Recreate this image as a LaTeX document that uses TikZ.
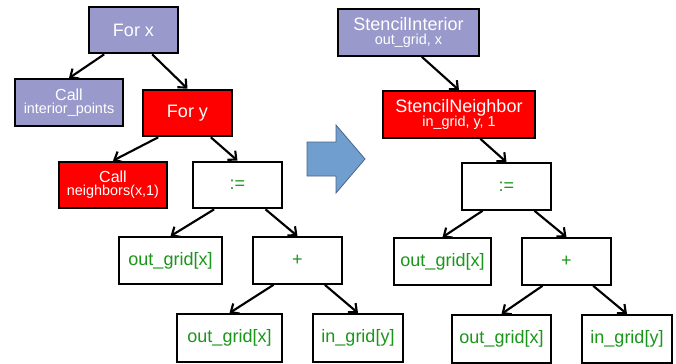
\documentclass[tikz,border=0pt]{standalone}
\usepackage{fontspec}
\setmainfont{Liberation Sans}
\usetikzlibrary{arrows.meta}

\definecolor{boxpurple}{RGB}{153,153,204}
\definecolor{boxred}{RGB}{255,0,0}
\definecolor{codegreen}{RGB}{26,150,26}
\definecolor{bigblue}{RGB}{112,159,207}
\definecolor{bigblueline}{RGB}{75,100,135}

\newcommand{\bigtxt}{\fontsize{13.5pt}{15pt}\selectfont}
\newcommand{\midtxt}{\fontsize{12pt}{13pt}\selectfont}
\newcommand{\smalltxt}{\fontsize{10.8pt}{12pt}\selectfont}

\tikzset{
  box/.style={draw, line width=1.5pt, inner sep=0pt, align=center,
              minimum width=67pt, minimum height=35pt},
  purplebox/.style={box, fill=boxpurple, text=white},
  redbox/.style={box, fill=boxred, text=white},
  codebox/.style={box, fill=white, text=codegreen, font=\bigtxt},
  link/.style={line width=1.6pt, -{Straight Barb[length=5pt,width=9pt]}}
}

\begin{document}
\begin{tikzpicture}[x=0.75pt,y=-0.75pt]
  \useasboundingbox (0,0) rectangle (676,364);

  % before
  \draw (133.5,30) node[purplebox,font=\bigtxt] (forx) {For x};
  \draw (69,102.5) node[purplebox,minimum width=81pt] (callip) {\midtxt Call\\[-2pt]\smalltxt interior\_points};
  \draw (187.5,113) node[redbox,font=\bigtxt] (fory) {For y};
  \draw (113,185) node[redbox,minimum width=81pt] (callnb) {\midtxt Call\\[-2pt]\smalltxt neighbors(x,1)};
  \draw (237.5,185) node[codebox] (asgnL) {:=};
  \draw (170.5,260.5) node[codebox,minimum width=77pt] (outL) {out\_grid[x]};
  \draw (297.5,260.5) node[codebox] (plusL) {+};
  \draw (229.5,338) node[codebox,minimum width=79pt,minimum height=36pt] (outLL) {out\_grid[x]};
  \draw (358,338) node[codebox,minimum width=67.5pt,minimum height=36pt] (inLL) {in\_grid[y]};

  % after
  \draw (408.5,32.5) node[purplebox,minimum width=106pt] (stint) {\bigtxt StencilInterior\\[-1pt]\smalltxt out\_grid, x};
  \draw (459,114.5) node[redbox,minimum width=114pt] (stnb) {\bigtxt StencilNeighbor\\[-1pt]\smalltxt in\_grid, y, 1};
  \draw (506.5,186.5) node[codebox] (asgnR) {:=};
  \draw (442.5,261.5) node[codebox,minimum width=73pt] (outR) {out\_grid[x]};
  \draw (566.5,261.5) node[codebox] (plusR) {+};
  \draw (501.5,339) node[codebox,minimum width=74.5pt,minimum height=36pt] (outRR) {out\_grid[x]};
  \draw (627,339) node[codebox,minimum width=67.5pt,minimum height=36pt] (inRR) {in\_grid[y]};

  % edges
  \path[link] ([xshift=-22pt]forx.south) edge (callip.north);
  \path[link] ([xshift=14pt]forx.south) edge (fory.north);
  \path[link] ([xshift=-22pt]fory.south) edge (callnb.north);
  \path[link] ([xshift=17.5pt]fory.south) edge (asgnL.north);
  \path[link] ([xshift=-17.5pt]asgnL.south) edge (outL.north);
  \path[link] ([xshift=21pt]asgnL.south) edge (plusL.north);
  \path[link] ([xshift=-18pt]plusL.south) edge (outLL.north);
  \path[link] ([xshift=20.5pt]plusL.south) edge (inLL.north);

  \path[link] ([xshift=10pt]stint.south) edge (stnb.north);
  \path[link] ([xshift=16pt]stnb.south) edge (asgnR.north);
  \path[link] ([xshift=-18pt]asgnR.south) edge (outR.north);
  \path[link] ([xshift=21pt]asgnR.south) edge (plusR.north);
  \path[link] ([xshift=-18pt]plusR.south) edge (outRR.north);
  \path[link] ([xshift=20pt]plusR.south) edge (inRR.north);

  % big arrow
  \draw[fill=bigblue,draw=bigblueline,line width=0.6pt]
    (307,142) -- (336,142) -- (336,125) -- (365,159) -- (336,193) -- (336,176) -- (307,176) -- cycle;
\end{tikzpicture}
\end{document}
